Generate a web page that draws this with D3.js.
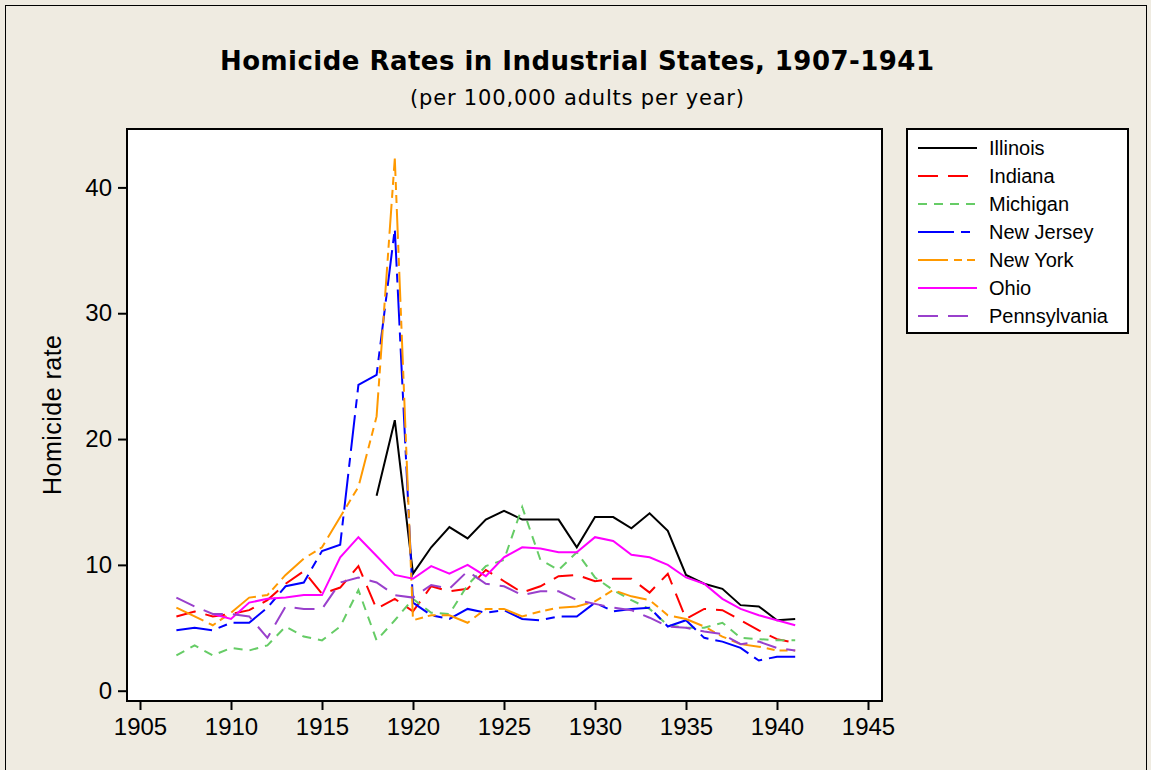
<!doctype html>
<html lang="en">
<head>
    <meta charset="utf-8">
    <script src="https://d3js.org/d3.v7.min.js"></script>
    <style>
        body { margin:0; background:#efebe1; }
        text { fill:#000; }
    </style>
    <title>Homicide Rates in Industrial States</title>
</head>
<body>
<div id="chart"></div>
<script>

    // data (rate per 100,000 adults, null = no value)
    var years = [1907, 1908, 1909, 1910, 1911, 1912, 1913, 1914, 1915, 1916,
                 1917, 1918, 1919, 1920, 1921, 1922, 1923, 1924, 1925, 1926,
                 1927, 1928, 1929, 1930, 1931, 1932, 1933, 1934, 1935, 1936,
                 1937, 1938, 1939, 1940, 1941];

    var illinois = [null, null, null, null, null, null, null, null, null, null,
                    null, 15.5, 21.5, 9.3, 11.4, 13.0, 12.1, 13.6, 14.3, 13.6,
                    13.6, 13.6, 11.4, 13.8, 13.8, 12.9, 14.1, 12.7, 9.2, 8.5,
                    8.1, 6.8, 6.7, 5.6, 5.7];
    var indiana = [5.9, 6.3, 5.9, 6.1, 6.4, 7.2, 8.5, 9.5, 7.7, 8.2,
                   9.9, 6.5, 7.3, 6.3, 8.3, 7.9, 8.1, 9.6, 8.7, 7.8,
                   8.3, 9.1, 9.2, 8.7, 8.9, 8.9, 7.8, 9.3, 5.7, 6.5,
                   6.4, 5.6, 4.8, 4.1, 3.8];
    var michigan = [2.8, 3.6, 2.8, 3.4, 3.2, 3.6, 5.1, 4.3, 4.0, 5.1,
                    8.0, 4.0, 5.6, 7.3, 6.2, 6.1, 8.4, 9.9, 10.4, 14.6,
                    10.4, 9.6, 11.0, 9.0, 8.0, 7.2, 6.5, 5.2, 5.0, 5.0,
                    5.4, 4.2, 4.1, 4.0, 4.0];
    var newJersey = [4.8, 5.0, 4.8, 5.4, 5.4, 6.6, 8.3, 8.6, 11.1, 11.6,
                     24.3, 25.1, 36.7, 7.0, 6.0, 5.7, 6.5, 6.2, 6.4, 5.7,
                     5.6, 5.9, 5.9, 7.0, 6.3, 6.5, 6.6, 5.1, 5.6, 4.2,
                     3.9, 3.4, 2.4, 2.7, 2.7];
    var newYork = [6.6, 5.9, 5.2, 6.2, 7.4, 7.6, 9.2, 10.5, 11.4, 13.8,
                   16.2, 21.8, 42.3, 5.6, 6.0, 6.0, 5.4, 6.5, 6.5, 5.9,
                   6.3, 6.6, 6.7, 7.1, 8.0, 7.5, 7.2, 6.0, 5.7, 5.1,
                   4.3, 3.7, 3.5, 3.2, 3.2];
    var ohio = [null, null, 6.1, 5.7, 7.0, 7.3, 7.4, 7.6, 7.6, 10.6,
                12.2, 10.7, 9.2, 8.9, 9.9, 9.3, 10.0, 9.1, 10.6, 11.4,
                11.3, 11.0, 11.0, 12.2, 11.9, 10.8, 10.6, 10.0, 9.0, 8.5,
                7.3, 6.5, 6.0, 5.6, 5.2];
    var pennsylvania = [7.4, 6.7, 6.1, 6.1, 5.9, 4.2, 6.7, 6.5, 6.5, 8.6,
                        9.0, 8.6, 7.6, 7.4, 8.4, 8.1, 9.5, 8.5, 8.3, 7.6,
                        7.9, 7.9, 7.2, 6.9, 6.6, 6.4, 5.8, 5.1, 5.0, 4.7,
                        4.5, 3.7, 3.9, 3.4, 3.2];

    var states = ["Illinois", "Indiana", "Michigan", "New Jersey", "New York", "Ohio", "Pennsylvania"];
    var xTicks = [1905, 1910, 1915, 1920, 1925, 1930, 1935, 1940, 1945];
    var yTicks = [0, 10, 20, 30, 40];

    var seriesValues = [illinois, indiana, michigan, newJersey, newYork, ohio, pennsylvania];
    var colors = ["#000000", "#ff0000", "#66cc66", "#0000ff", "#ff9900", "#ff00ff", "#9940cc"];
    var dashes = ["none", "20,10", "9,7", "36,7,9,7", "30,6,8,5,8,6", "none", "20,10"];

    var sansFont = "'Liberation Sans', Arial, sans-serif";
    var wideFont = "'DejaVu Sans', Verdana, sans-serif";

    var width = 1151, height = 770;
    var frame = {left: 127, top: 129, right: 882, bottom: 701};

    var x = d3.scaleLinear().domain([1905, 1945]).range([140, 868]);
    var y = d3.scaleLinear().domain([0, 40]).range([690.7, 187.4]);

    var svg = d3.select("#chart").append("svg")
        .attr("width", width)
        .attr("height", height)
        .style("font-family", sansFont);

    // outer border
    svg.append("rect")
        .attr("x", 5.5).attr("y", 5.5)
        .attr("width", 1141).attr("height", 780)
        .attr("fill", "#efebe1")
        .attr("stroke", "#000").attr("stroke-width", 1);

    // titles
    svg.append("text")
        .attr("x", 577).attr("y", 70)
        .attr("text-anchor", "middle")
        .style("font-family", wideFont)
        .attr("font-size", 26).attr("font-weight", "bold")
        .attr("textLength", 714).attr("lengthAdjust", "spacing")
        .text("Homicide Rates in Industrial States, 1907-1941");
    svg.append("text")
        .attr("x", 577).attr("y", 105)
        .attr("text-anchor", "middle")
        .style("font-family", wideFont)
        .attr("font-size", 21)
        .attr("textLength", 334).attr("lengthAdjust", "spacing")
        .text("(per 100,000 adults per year)");

    // plot area
    svg.append("rect")
        .attr("x", frame.left).attr("y", frame.top)
        .attr("width", frame.right - frame.left)
        .attr("height", frame.bottom - frame.top)
        .attr("fill", "#fff");

    var lineGen = d3.line()
        .defined(function(d) { return d.v != null; })
        .x(function(d) { return x(d.year); })
        .y(function(d) { return y(d.v); });

    seriesValues.forEach(function(vals, i) {
        var pts = years.map(function(yr, j) { return {year: yr, v: vals[j]}; });
        svg.append("path")
            .datum(pts)
            .attr("fill", "none")
            .attr("stroke", colors[i])
            .attr("stroke-width", 2)
            .attr("stroke-dasharray", dashes[i])
            .attr("d", lineGen);
    });

    svg.append("rect")
        .attr("x", frame.left).attr("y", frame.top)
        .attr("width", frame.right - frame.left)
        .attr("height", frame.bottom - frame.top)
        .attr("fill", "none")
        .attr("stroke", "#000").attr("stroke-width", 2);

    // axes
    var xAxis = svg.append("g")
        .attr("transform", "translate(0," + frame.bottom + ")")
        .call(d3.axisBottom(x).tickValues(xTicks).tickFormat(d3.format("d")).tickSize(9).tickPadding(8));
    var yAxis = svg.append("g")
        .attr("transform", "translate(" + frame.left + ",0)")
        .call(d3.axisLeft(y).tickValues(yTicks).tickSize(9).tickPadding(6));

    [xAxis, yAxis].forEach(function(g) {
        g.select(".domain").remove();
        g.selectAll(".tick line").attr("stroke", "#000").attr("stroke-width", 2);
        g.selectAll(".tick text")
            .style("font-family", sansFont)
            .attr("font-size", 24).attr("fill", "#000");
    });

    svg.append("text")
        .attr("transform", "translate(61,415) rotate(-90)")
        .attr("text-anchor", "middle")
        .attr("font-size", 25)
        .attr("textLength", 160).attr("lengthAdjust", "spacing")
        .text("Homicide rate");

    // legend
    var legend = svg.append("g");
    legend.append("rect")
        .attr("x", 907).attr("y", 129)
        .attr("width", 221).attr("height", 204)
        .attr("fill", "#fff")
        .attr("stroke", "#000").attr("stroke-width", 2);

    states.forEach(function(name, i) {
        var ly = 148 + i * 28;
        legend.append("line")
            .attr("x1", 918).attr("x2", 977)
            .attr("y1", ly).attr("y2", ly)
            .attr("stroke", colors[i])
            .attr("stroke-width", 2)
            .attr("stroke-dasharray", dashes[i]);
        legend.append("text")
            .attr("x", 989).attr("y", ly + 7)
            .attr("font-size", 20)
            .text(name);
    });

</script>
</body>
</html>
